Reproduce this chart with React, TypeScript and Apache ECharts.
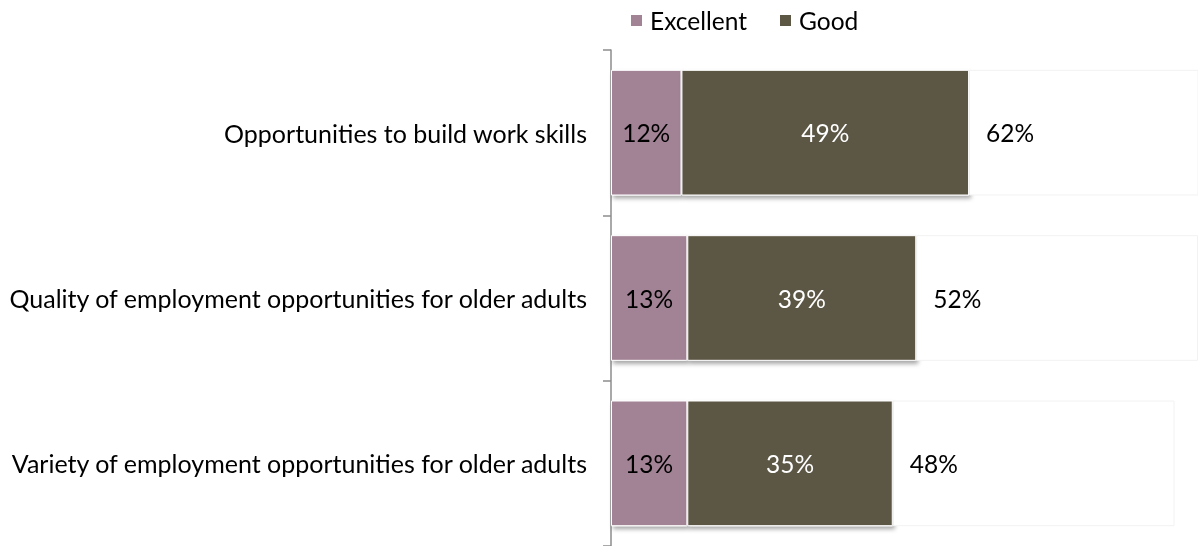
import React, { useEffect, useRef } from "react";
import * as echarts from "echarts";

const categories = [
  "Opportunities to build work skills",
  "Quality of employment opportunities for older adults",
  "Variety of employment opportunities for older adults",
];
const excellent = [12, 13, 13];
const good = [49, 39, 35];
const totals = [62, 52, 48];
const remainder = [40, 48, 48];

const FONT = "Lato, sans-serif";
const FS = 24.5;
const AXIS_FS = 25;

export default function App() {
  const ref = useRef<HTMLDivElement>(null);
  useEffect(() => {
    const chart = echarts.init(ref.current!, null, { renderer: "svg" });
    const shadow = {
      shadowBlur: 4,
      shadowOffsetX: 2,
      shadowOffsetY: 3,
      shadowColor: "rgba(0,0,0,0.35)",
    };
    chart.setOption({
      animation: false,
      textStyle: { fontFamily: FONT },
      legend: {
        left: 624,
        top: 3,
        itemWidth: 13,
        itemHeight: 13,
        itemGap: 31,
        icon: "rect",
        textStyle: { fontSize: FS, color: "#000", fontFamily: FONT, padding: [0, 0, 0, 2] },
        data: ["Excellent", "Good"],
      },
      grid: { left: 611, right: 0, top: 50, bottom: 0 },
      xAxis: { type: "value", min: 0, max: 100, show: false },
      yAxis: {
        type: "category",
        inverse: true,
        data: categories,
        axisLine: { show: true, lineStyle: { color: "#8c8c8c", width: 1.5 } },
        axisTick: { show: true, length: 8, lineStyle: { color: "#8c8c8c", width: 1.5 } },
        axisLabel: { fontSize: AXIS_FS, color: "#000", margin: 24, fontFamily: FONT },
      },
      series: [
        {
          name: "Excellent",
          type: "bar",
          stack: "a",
          barWidth: "76%",
          data: excellent,
          itemStyle: { color: "#A28295", borderColor: "#fff", borderWidth: 1, ...shadow },
          label: {
            show: true,
            position: "inside",
            formatter: "{c}%",
            color: "#000",
            fontSize: FS,
            fontFamily: FONT,
          },
        },
        {
          name: "Good",
          type: "bar",
          stack: "a",
          data: good,
          itemStyle: { color: "#5C5644", borderColor: "#fff", borderWidth: 1, ...shadow },
          label: {
            show: true,
            position: "inside",
            formatter: "{c}%",
            color: "#fff",
            fontSize: FS,
            fontFamily: FONT,
          },
        },
        {
          name: "Rest",
          type: "bar",
          stack: "a",
          data: remainder,
          itemStyle: { color: "#fff", borderColor: "#f2f2f2", borderWidth: 1 },
          label: {
            show: true,
            position: "insideLeft",
            offset: [12, 0],
            formatter: (p: any) => totals[p.dataIndex] + "%",
            color: "#000",
            fontSize: FS,
            fontFamily: FONT,
          },
          silent: true,
        },
      ],
    });
    return () => chart.dispose();
  }, []);
  return (
    <div
      ref={ref}
      style={{ position: "fixed", left: 0, top: 0, width: 1198, height: 546 }}
    />
  );
}
